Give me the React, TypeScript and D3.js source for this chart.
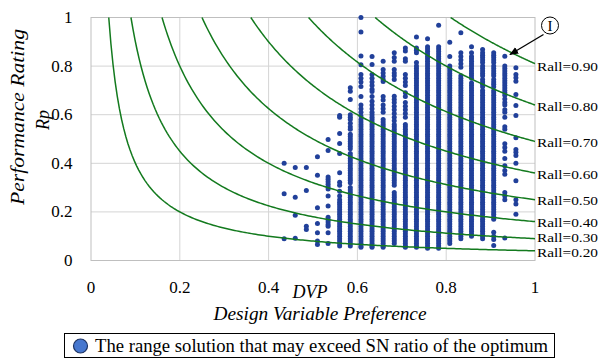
import React from "react";
import * as d3 from "d3";

// DVP value of each column of solutions
const dvpColumns = [0.435, 0.46, 0.485, 0.51, 0.534, 0.56, 0.584, 0.608, 0.633, 0.658, 0.683, 0.708, 0.733, 0.758, 0.783, 0.808, 0.833, 0.857, 0.882, 0.907, 0.932, 0.957];

// Rp values read for each column
const rpColumns: number[][] = [
  [0.40, 0.275, 0.09],
  [0.383, 0.26, 0.186, 0.092],
  [0.383, 0.288, 0.141, 0.128],
  [0.427, 0.351, 0.217, 0.152, 0.114, 0.08, 0.066],
  [0.498, 0.453, 0.344, 0.334, 0.324, 0.314, 0.304, 0.294, 0.265, 0.224, 0.178, 0.168, 0.158, 0.148, 0.141, 0.114, 0.07],
  [0.597, 0.589, 0.523, 0.481, 0.44, 0.361, 0.322, 0.31, 0.285, 0.265, 0.25, 0.24, 0.23, 0.22, 0.21, 0.20, 0.19, 0.18, 0.17, 0.16, 0.15, 0.14, 0.13, 0.12, 0.11, 0.10, 0.09, 0.08, 0.07, 0.06],
  [0.711, 0.697, 0.663, 0.60, 0.59, 0.58, 0.565, 0.55, 0.54, 0.52, 0.51, 0.50, 0.49, 0.48, 0.47, 0.46, 0.44, 0.43, 0.42, 0.41, 0.40, 0.39, 0.38, 0.37, 0.36, 0.35, 0.34, 0.33, 0.32, 0.30, 0.29, 0.28, 0.27, 0.26, 0.25, 0.24, 0.23, 0.22, 0.21, 0.20, 0.19, 0.18, 0.17, 0.16, 0.15, 0.14, 0.13, 0.12, 0.11, 0.10, 0.09, 0.08, 0.07, 0.06],
  [1.0, 0.94, 0.842, 0.806, 0.765, 0.75, 0.735, 0.716, 0.675, 0.64, 0.625, 0.61, 0.595, 0.58, 0.57, 0.56, 0.55, 0.54, 0.53, 0.52, 0.51, 0.50, 0.49, 0.48, 0.47, 0.46, 0.45, 0.44, 0.43, 0.42, 0.41, 0.40, 0.39, 0.38, 0.37, 0.36, 0.35, 0.34, 0.33, 0.32, 0.31, 0.30, 0.29, 0.28, 0.27, 0.26, 0.25, 0.24, 0.23, 0.22, 0.21, 0.20, 0.19, 0.18, 0.17, 0.16, 0.15, 0.14, 0.13, 0.12, 0.11, 0.10, 0.09, 0.08, 0.07, 0.06, 0.055],
  [0.84, 0.807, 0.765, 0.75, 0.735, 0.72, 0.705, 0.695, 0.675, 0.655, 0.64, 0.625, 0.61, 0.60, 0.59, 0.58, 0.57, 0.56, 0.55, 0.54, 0.53, 0.52, 0.51, 0.50, 0.49, 0.48, 0.47, 0.46, 0.45, 0.44, 0.43, 0.42, 0.41, 0.40, 0.39, 0.38, 0.37, 0.36, 0.35, 0.34, 0.33, 0.32, 0.31, 0.30, 0.29, 0.28, 0.27, 0.26, 0.25, 0.24, 0.23, 0.22, 0.21, 0.20, 0.19, 0.18, 0.17, 0.16, 0.15, 0.14, 0.13, 0.12, 0.11, 0.10, 0.09, 0.08, 0.07, 0.06, 0.055],
  [0.82, 0.786, 0.772, 0.758, 0.745, 0.737, 0.675, 0.66, 0.64, 0.625, 0.61, 0.58, 0.57, 0.56, 0.55, 0.54, 0.53, 0.52, 0.51, 0.50, 0.49, 0.48, 0.47, 0.46, 0.45, 0.44, 0.43, 0.42, 0.41, 0.40, 0.39, 0.38, 0.37, 0.36, 0.35, 0.34, 0.33, 0.32, 0.31, 0.30, 0.29, 0.28, 0.27, 0.26, 0.25, 0.24, 0.23, 0.22, 0.21, 0.20, 0.19, 0.18, 0.17, 0.16, 0.15, 0.14, 0.13, 0.12, 0.11, 0.10, 0.09, 0.08, 0.07, 0.06, 0.055],
  [0.855, 0.835, 0.82, 0.786, 0.772, 0.76, 0.745, 0.676, 0.663, 0.65, 0.635, 0.62, 0.605, 0.59, 0.575, 0.56, 0.55, 0.54, 0.53, 0.52, 0.51, 0.50, 0.49, 0.48, 0.47, 0.46, 0.45, 0.44, 0.43, 0.42, 0.41, 0.40, 0.39, 0.38, 0.37, 0.36, 0.35, 0.34, 0.33, 0.32, 0.31, 0.28, 0.27, 0.26, 0.25, 0.24, 0.23, 0.22, 0.21, 0.20, 0.19, 0.18, 0.17, 0.16, 0.15, 0.14, 0.13, 0.12, 0.11, 0.10, 0.09, 0.08, 0.07],
  [0.875, 0.862, 0.83, 0.82, 0.765, 0.75, 0.735, 0.72, 0.69, 0.675, 0.65, 0.635, 0.62, 0.605, 0.59, 0.56, 0.55, 0.54, 0.53, 0.52, 0.51, 0.50, 0.49, 0.48, 0.47, 0.46, 0.45, 0.44, 0.43, 0.42, 0.41, 0.40, 0.39, 0.38, 0.37, 0.36, 0.35, 0.34, 0.33, 0.32, 0.31, 0.30, 0.29, 0.28, 0.27, 0.26, 0.25, 0.24, 0.23, 0.22, 0.21, 0.20, 0.19, 0.18, 0.17, 0.16, 0.15, 0.14, 0.13, 0.12, 0.11, 0.10, 0.09, 0.08, 0.07, 0.06, 0.055],
  [0.92, 0.875, 0.865, 0.855, 0.815, 0.80, 0.79, 0.78, 0.77, 0.76, 0.75, 0.74, 0.73, 0.72, 0.71, 0.70, 0.69, 0.68, 0.67, 0.66, 0.65, 0.64, 0.63, 0.62, 0.61, 0.60, 0.59, 0.58, 0.57, 0.56, 0.55, 0.54, 0.53, 0.52, 0.51, 0.50, 0.49, 0.48, 0.47, 0.46, 0.45, 0.44, 0.43, 0.42, 0.41, 0.40, 0.39, 0.38, 0.37, 0.36, 0.35, 0.34, 0.33, 0.32, 0.31, 0.30, 0.29, 0.28, 0.27, 0.26, 0.25, 0.24, 0.23, 0.22, 0.21, 0.20, 0.19, 0.18, 0.17, 0.16, 0.15, 0.14, 0.13, 0.12, 0.11, 0.10, 0.09, 0.08, 0.07, 0.06, 0.055],
  [0.913, 0.88, 0.87, 0.86, 0.85, 0.84, 0.83, 0.82, 0.81, 0.80, 0.79, 0.78, 0.77, 0.76, 0.75, 0.74, 0.73, 0.72, 0.71, 0.70, 0.69, 0.68, 0.67, 0.66, 0.65, 0.64, 0.63, 0.62, 0.61, 0.60, 0.59, 0.58, 0.57, 0.56, 0.55, 0.54, 0.53, 0.52, 0.51, 0.50, 0.49, 0.48, 0.47, 0.46, 0.45, 0.44, 0.43, 0.42, 0.41, 0.40, 0.39, 0.38, 0.37, 0.36, 0.35, 0.34, 0.33, 0.32, 0.31, 0.30, 0.29, 0.28, 0.27, 0.26, 0.25, 0.24, 0.23, 0.22, 0.21, 0.20, 0.19, 0.18, 0.17, 0.16, 0.15, 0.14, 0.13, 0.12, 0.11, 0.10, 0.09, 0.08, 0.07, 0.06, 0.05],
  [0.968, 0.88, 0.87, 0.86, 0.85, 0.84, 0.83, 0.82, 0.81, 0.80, 0.79, 0.78, 0.77, 0.76, 0.75, 0.74, 0.73, 0.72, 0.71, 0.70, 0.69, 0.68, 0.67, 0.66, 0.65, 0.64, 0.63, 0.62, 0.61, 0.60, 0.59, 0.58, 0.57, 0.56, 0.55, 0.54, 0.53, 0.52, 0.51, 0.50, 0.49, 0.48, 0.47, 0.46, 0.45, 0.44, 0.43, 0.42, 0.41, 0.40, 0.39, 0.38, 0.37, 0.36, 0.35, 0.34, 0.33, 0.32, 0.31, 0.30, 0.29, 0.28, 0.27, 0.26, 0.25, 0.24, 0.23, 0.22, 0.21, 0.20, 0.19, 0.18, 0.17, 0.16, 0.15, 0.14, 0.13, 0.12, 0.11, 0.10, 0.09, 0.08, 0.07, 0.06, 0.05],
  [0.898, 0.84, 0.80, 0.79, 0.78, 0.77, 0.76, 0.75, 0.74, 0.73, 0.72, 0.71, 0.70, 0.69, 0.68, 0.67, 0.66, 0.65, 0.64, 0.63, 0.62, 0.61, 0.60, 0.59, 0.58, 0.57, 0.56, 0.55, 0.54, 0.53, 0.52, 0.51, 0.50, 0.49, 0.48, 0.47, 0.46, 0.45, 0.44, 0.43, 0.42, 0.41, 0.40, 0.39, 0.38, 0.37, 0.36, 0.35, 0.34, 0.33, 0.32, 0.31, 0.30, 0.29, 0.28, 0.27, 0.26, 0.25, 0.24, 0.23, 0.22, 0.21, 0.20, 0.19, 0.18, 0.17, 0.16, 0.15, 0.14, 0.13, 0.12, 0.11, 0.10, 0.09, 0.08, 0.07],
  [0.937, 0.855, 0.84, 0.825, 0.81, 0.795, 0.76, 0.75, 0.74, 0.73, 0.72, 0.71, 0.70, 0.69, 0.68, 0.67, 0.66, 0.65, 0.64, 0.63, 0.62, 0.61, 0.60, 0.59, 0.58, 0.57, 0.56, 0.55, 0.54, 0.53, 0.52, 0.51, 0.50, 0.49, 0.48, 0.47, 0.46, 0.45, 0.44, 0.43, 0.42, 0.41, 0.40, 0.39, 0.38, 0.37, 0.36, 0.35, 0.34, 0.33, 0.32, 0.31, 0.30, 0.29, 0.28, 0.27, 0.26, 0.25, 0.24, 0.23, 0.22, 0.21, 0.20, 0.19, 0.18, 0.17, 0.16, 0.15, 0.14, 0.13, 0.12, 0.11, 0.10, 0.09],
  [0.88, 0.855, 0.84, 0.83, 0.82, 0.81, 0.80, 0.79, 0.78, 0.77, 0.76, 0.75, 0.73, 0.72, 0.71, 0.70, 0.69, 0.68, 0.67, 0.66, 0.65, 0.64, 0.63, 0.62, 0.61, 0.60, 0.59, 0.58, 0.57, 0.56, 0.55, 0.54, 0.53, 0.52, 0.51, 0.50, 0.49, 0.48, 0.47, 0.46, 0.45, 0.44, 0.43, 0.42, 0.41, 0.40, 0.39, 0.38, 0.37, 0.36, 0.35, 0.34, 0.33, 0.32, 0.31, 0.30, 0.29, 0.28, 0.27, 0.26, 0.25, 0.24, 0.23, 0.22, 0.21, 0.20, 0.19, 0.18, 0.17, 0.16, 0.15, 0.14, 0.13, 0.12, 0.11, 0.10],
  [0.868, 0.855, 0.845, 0.835, 0.825, 0.815, 0.80, 0.79, 0.78, 0.77, 0.76, 0.745, 0.735, 0.725, 0.715, 0.70, 0.69, 0.68, 0.67, 0.66, 0.65, 0.64, 0.63, 0.62, 0.61, 0.60, 0.59, 0.58, 0.57, 0.56, 0.55, 0.54, 0.53, 0.52, 0.51, 0.50, 0.49, 0.48, 0.47, 0.46, 0.45, 0.44, 0.43, 0.42, 0.41, 0.40, 0.39, 0.38, 0.37, 0.36, 0.35, 0.34, 0.33, 0.32, 0.31, 0.30, 0.29, 0.28, 0.27, 0.26, 0.25, 0.24, 0.23, 0.22, 0.21, 0.20, 0.19, 0.18, 0.17, 0.16, 0.15, 0.14, 0.13, 0.12, 0.11, 0.10, 0.09],
  [0.855, 0.845, 0.835, 0.825, 0.815, 0.80, 0.79, 0.78, 0.77, 0.76, 0.745, 0.735, 0.725, 0.715, 0.70, 0.69, 0.68, 0.67, 0.66, 0.65, 0.64, 0.63, 0.62, 0.61, 0.60, 0.59, 0.58, 0.57, 0.56, 0.55, 0.54, 0.53, 0.52, 0.51, 0.50, 0.49, 0.48, 0.47, 0.46, 0.45, 0.44, 0.43, 0.42, 0.41, 0.40, 0.39, 0.38, 0.37, 0.36, 0.35, 0.34, 0.33, 0.32, 0.31, 0.30, 0.29, 0.28, 0.27, 0.26, 0.25, 0.24, 0.23, 0.22, 0.21, 0.20, 0.19, 0.18, 0.17, 0.116, 0.10, 0.086, 0.062],
  [0.841, 0.80, 0.79, 0.78, 0.77, 0.76, 0.75, 0.74, 0.73, 0.72, 0.71, 0.70, 0.69, 0.68, 0.665, 0.65, 0.64, 0.62, 0.61, 0.59, 0.55, 0.54, 0.48, 0.465, 0.45, 0.42, 0.39, 0.37, 0.355, 0.28, 0.265, 0.25, 0.093],
  [0.793, 0.765, 0.752, 0.738, 0.683, 0.638, 0.597, 0.505, 0.457, 0.445, 0.432, 0.40, 0.328, 0.25, 0.232, 0.19],
];

const xTicks = [0, 0.2, 0.4, 0.6, 0.8, 1];
const xTickLabels = ["0", "0.2", "0.4", "0.6", "0.8", "1"];
const yTicks = [0, 0.2, 0.4, 0.6, 0.8, 1];
const yTickLabels = ["0", "0.2", "0.4", "0.6", "0.8", "1"];

// Iso-lines of Rall = sqrt(DVP * Rp)
const rallLevels = [0.2, 0.3, 0.4, 0.5, 0.6, 0.7, 0.8, 0.9];
const rallLabels = ["Rall=0.20", "Rall=0.30", "Rall=0.40", "Rall=0.50", "Rall=0.60", "Rall=0.70", "Rall=0.80", "Rall=0.90"];
// small vertical nudges (px) of the curve labels, layout only
const rallLabelNudge = [1.3, -1.2, 0.4, 0.3, 1, 0.6, 2, 2.5];

const legendText = "The range solution that may exceed SN ratio of the optimum";

const FONT = "'Liberation Serif', 'Times New Roman', serif";

export default function App() {
  const x = d3.scaleLinear().domain([0, 1]).range([91, 535]);
  const y = d3.scaleLinear().domain([0, 1]).range([260.5, 17.5]);

  const line = d3
    .line<[number, number]>()
    .x((d) => x(d[0]))
    .y((d) => y(d[1]));

  const curves = rallLevels.map((r) => {
    const start = r * r;
    const pts: [number, number][] = d3
      .range(0, 201)
      .map((i) => start + ((1 - start) * i) / 200)
      .map((dv) => [dv, (r * r) / dv] as [number, number]);
    return { r, d: line(pts) || "" };
  });

  const points: { cx: number; cy: number; k: string }[] = [];
  dvpColumns.forEach((dv, ci) => {
    rpColumns[ci].forEach((rp, j) => {
      points.push({ cx: x(dv), cy: y(rp), k: `${ci}-${j}` });
    });
  });

  return (
    <svg
      width={601}
      height={362}
      style={{ position: "absolute", left: 0, top: 0, background: "#fff" }}
      fontFamily={FONT}
    >
      <defs>
        <marker id="arrowhead" viewBox="0 0 10 10" refX="9" refY="5" markerWidth="7" markerHeight="7" orient="auto">
          <path d="M0,1 L10,5 L0,9 Z" fill="#000" />
        </marker>
      </defs>
      <rect x={0} y={0} width={601} height={362} fill="#fff" />

      {/* grid */}
      {yTicks.slice(1, -1).map((t) => (
        <line key={`gy${t}`} x1={x(0)} x2={x(1)} y1={y(t)} y2={y(t)} stroke="#d4d4d4" strokeWidth={1} />
      ))}
      {xTicks.slice(1, -1).map((t) => (
        <line key={`gx${t}`} x1={x(t)} x2={x(t)} y1={y(0)} y2={y(1)} stroke="#d4d4d4" strokeWidth={1} />
      ))}
      <rect x={x(0)} y={y(1)} width={x(1) - x(0)} height={y(0) - y(1)} fill="none" stroke="#bfbfbf" strokeWidth={1} />

      {/* points */}
      {points.map((p) => (
        <circle key={p.k} cx={p.cx} cy={p.cy} r={2.5} fill="#21409a" />
      ))}

      {/* iso curves */}
      {curves.map((c) => (
        <path key={`c${c.r}`} d={c.d} fill="none" stroke="#137a1e" strokeWidth={1.5} />
      ))}

      {/* curve labels */}
      {rallLevels.map((r, i) => (
        <text key={`rl${r}`} x={537} y={y(r * r) + rallLabelNudge[i]} dominantBaseline="central" fontSize={13} textLength={61} lengthAdjust="spacingAndGlyphs" fill="#000">
          {rallLabels[i]}
        </text>
      ))}

      {/* tick labels */}
      {yTicks.map((t, i) => (
        <text key={`yt${t}`} x={72.5} y={y(t)} textAnchor="end" dominantBaseline="central" fontSize={17} fill="#000">
          {yTickLabels[i]}
        </text>
      ))}
      {xTicks.map((t, i) => (
        <text key={`xt${t}`} x={x(t)} y={287} textAnchor="middle" dominantBaseline="central" fontSize={17} fill="#000">
          {xTickLabels[i]}
        </text>
      ))}

      {/* axis titles */}
      <text x={310} y={292} textAnchor="middle" dominantBaseline="central" fontSize={18} fontStyle="italic">
        DVP
      </text>
      <text x={320} y={314} textAnchor="middle" dominantBaseline="central" fontSize={18} fontStyle="italic" textLength={213} lengthAdjust="spacingAndGlyphs">
        Design Variable Preference
      </text>
      <text transform="translate(18,117) rotate(-90)" textAnchor="middle" dominantBaseline="central" fontSize={18} fontStyle="italic" textLength={176} lengthAdjust="spacingAndGlyphs">
        Performance Rating
      </text>
      <text transform="translate(43,120) rotate(-90)" textAnchor="middle" dominantBaseline="central" fontSize={18} fontStyle="italic">
        Rp
      </text>

      {/* annotation */}
      <circle cx={550} cy={25.5} r={8.5} fill="#fff" stroke="#000" strokeWidth={1} />
      <text x={550} y={26} textAnchor="middle" dominantBaseline="central" fontSize={15}>
        I
      </text>
      <line x1={543.5} y1={34.5} x2={510} y2={54.5} stroke="#000" strokeWidth={1.3} markerEnd="url(#arrowhead)" />

      {/* legend */}
      <rect x={64.5} y={333.5} width={490} height={24} fill="#fff" stroke="#000" strokeWidth={1} />
      <circle cx={80.5} cy={346} r={7} fill="#4677cf" stroke="#1f3564" strokeWidth={1.2} />
      <text x={95} y={346} dominantBaseline="central" fontSize={18} fill="#000" textLength={453} lengthAdjust="spacingAndGlyphs">
        {legendText}
      </text>
    </svg>
  );
}
